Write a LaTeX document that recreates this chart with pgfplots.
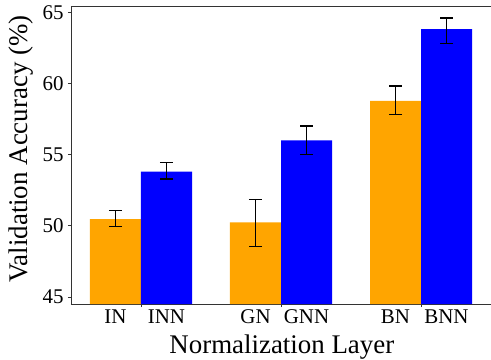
\documentclass[border=0pt]{standalone}
\usepackage{pgfplots}
\pgfplotsset{compat=1.18}
\usepackage{fontspec}
\setmainfont{Liberation Serif}
\definecolor{barorange}{HTML}{FFA500}
\definecolor{barblue}{HTML}{0000FF}
\definecolor{axgray}{HTML}{333333}
\begin{document}
\begin{tikzpicture}
\begin{axis}[
  scale only axis,
  width=420bp, height=298bp,
  xmin=0.5, xmax=3.5,
  ymin=44.5, ymax=65.45,
  axis x line*=box,
  axis y line*=left,
  axis line style={axgray, line width=0.8pt},
  ybar=0pt,
  bar width=51bp,
  xtick={1,2,3},
  xticklabels={,,},
  xtick pos=bottom,
  ytick pos=left,
  ytick={45,50,55,60,65},
  tick align=outside,
  major tick length=3bp,
  tick style={axgray, line width=0.6pt},
  extra x ticks={0.818,1.182,1.818,2.182,2.818,3.182},
  extra x tick labels={IN,INN,GN,GNN,BN,BNN},
  extra x tick style={major tick length=0pt, tick label style={yshift=-2bp}},
  /pgf/number format/assume math mode=true,
  tick label style={font=\fontsize{21}{21}\selectfont, text=black},
  yticklabel style={xshift=-1bp},
  xlabel={Normalization Layer},
  ylabel={Validation Accuracy (\%)},
  label style={font=\fontsize{27}{27}\selectfont},
  xlabel style={at={(axis description cs:0.502,0)}, anchor=base, yshift=-49bp},
  ylabel style={at={(axis description cs:-0.118,0.52)}, anchor=center, rotate=0},
  error bars/y dir=both,
  error bars/y explicit,
  error bars/error bar style={black, line width=1.3pt},
  error bars/error mark options={rotate=90, mark size=6.5bp, line width=1.3pt, black},
]
\addplot[fill=barorange, draw=none] coordinates {
  (1,50.47) += (0,0.59) -= (0,0.51)
  (2,50.24) += (0,1.62) -= (0,1.72)
  (3,58.78) += (0,1.04) -= (0,0.98)
};
\addplot[fill=barblue, draw=none] coordinates {
  (1,53.80) += (0,0.64) -= (0,0.51)
  (2,56.01) += (0,1.01) -= (0,0.98)
  (3,63.83) += (0,0.77) -= (0,1.03)
};
\end{axis}
\pgfresetboundingbox
\path ([xshift=-71bp,yshift=-56bp]current axis.south west) rectangle ([yshift=6bp]current axis.north east);
\end{tikzpicture}
\end{document}
